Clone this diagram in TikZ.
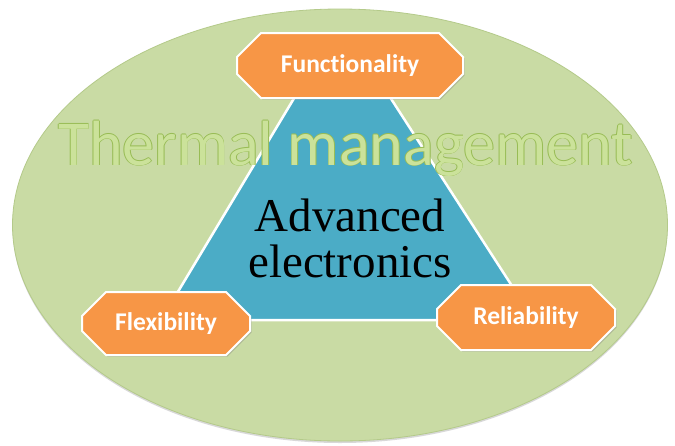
\documentclass[tikz,border=0pt]{standalone}
\usepackage{fontspec}
\setmainfont{Liberation Serif}
\newfontfamily\calfont[Ligatures=NoCommon]{Carlito}
\usetikzlibrary{shapes.misc,shapes.geometric,shadows}
\definecolor{ellfill}{HTML}{C9DBA4}
\definecolor{ellline}{HTML}{B4CA8A}
\definecolor{triblue}{HTML}{4BACC6}
\definecolor{boxorange}{HTML}{F79646}
\definecolor{thfill}{HTML}{CBE29A}
\definecolor{thline}{HTML}{98BC55}
\tikzset{
  qualbox/.style={chamfered rectangle, chamfered rectangle corners=all,
    chamfered rectangle xsep=13pt, chamfered rectangle ysep=13pt,
    fill=boxorange, draw=white, line width=2pt, inner sep=0pt,
    text=white, font=\calfont\bfseries\fontsize{25.5}{28}\selectfont,
    drop shadow={opacity=0.35, shadow xshift=1.5pt, shadow yshift=-1.5pt}},
  thtext/.style={font=\calfont\fontsize{64}{70}\selectfont, anchor=base, inner sep=0pt}
}
\begin{document}
\begin{tikzpicture}[x=1pt,y=-1pt]
\useasboundingbox[fill=white] (0,0) rectangle (675,445);
% field ellipse
\node[ellipse, minimum width=655pt, minimum height=432pt, inner sep=0pt,
      fill=ellfill, draw=ellline, line width=0.8pt,
      drop shadow={opacity=0.3, shadow xshift=0pt, shadow yshift=-2pt}] (field) at (340,225) {};
% triangle (apex hidden behind the Functionality box)
\coordinate (tl) at (317,60);
\coordinate (tr) at (366,60);
\coordinate (bl) at (161,320);
\coordinate (br) at (534,320);
\draw[fill=triblue, draw=white, line width=2.5pt, line join=miter] (tl) -- (tr) -- (br) -- (bl) -- cycle;
% Thermal management text with outline effect
\foreach \dx/\dy in {0.9/0,-0.9/0,0/0.9,0/-0.9}{
  \node[thtext, text=thline] at (345.5+\dx,165+\dy) {Thermal management};
}
\node[thtext, text=thfill] (thermal) at (345.5,165) {Thermal management};
% centre text
\node[align=center, font=\fontsize{47}{46}\selectfont, inner sep=0pt] (adv) at (350,238) {Advanced\\electronics};
% boxes
\node[qualbox, minimum width=226pt, minimum height=65pt] (func) at (350,65.5) {Functionality};
\node[qualbox, minimum width=168pt, minimum height=63pt] (flex) at (166,323.5) {Flexibility};
\node[qualbox, minimum width=178pt, minimum height=65pt] (rel) at (526,317.5) {Reliability};
\end{tikzpicture}
\end{document}
